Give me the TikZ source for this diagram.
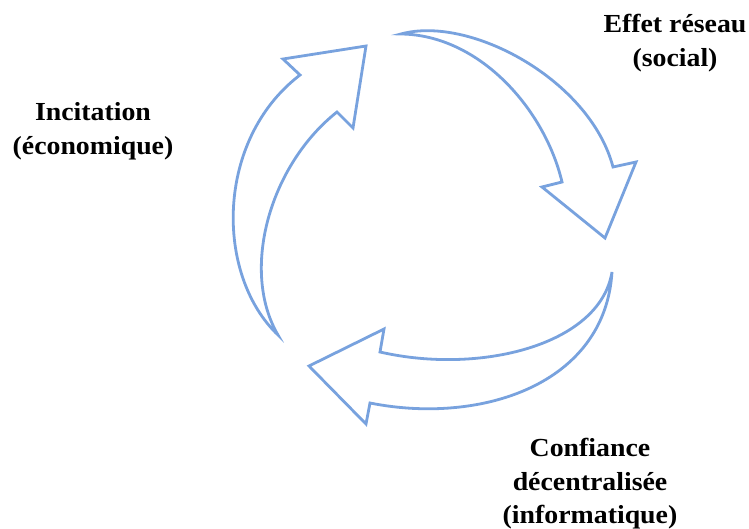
\documentclass[tikz,border=0pt]{standalone}
\usepackage{fontspec}
\setmainfont[FakeStretch=1.07]{Liberation Serif}
\definecolor{arrowblue}{RGB}{120,162,222}
\begin{document}
\begin{tikzpicture}[x=1pt,y=-1pt,
  cyclearrow/.style={draw=arrowblue,line width=2.8pt,fill=white,line join=miter},
  lbl/.style={font=\fontsize{26}{33.5}\selectfont\bfseries,align=center,inner sep=0pt}]
\useasboundingbox (0,0) rectangle (749,529);
% left arrow (up)
\draw[cyclearrow] (278,335) .. controls (215,275) and (215,140) .. (300,75)
  -- (283,59) -- (366,46) -- (353,128) -- (337,112)
  .. controls (270,165) and (240,270) .. (278,335) -- cycle;
% top-right arrow (down)
\draw[cyclearrow] (401,34) .. controls (470,15) and (590,80) .. (613,167)
  -- (636,162) -- (605,238) -- (542,187) -- (562,182)
  .. controls (545,110) and (480,35) .. (401,34) -- cycle;
% bottom arrow (left)
\draw[cyclearrow] (612,272) .. controls (600,345) and (480,375) .. (380,352)
  -- (384,329) -- (309,366) -- (366,424) -- (370,403)
  .. controls (480,425) and (605,385) .. (612,272) -- cycle;
\node[lbl] (incitation) at (93,131) {Incitation\\(économique)};
\node[lbl] (reseau) at (675,43) {Effet réseau\\(social)};
\node[lbl] (confiance) at (590,484) {Confiance\\décentralisée\\(informatique)};
\end{tikzpicture}
\end{document}
